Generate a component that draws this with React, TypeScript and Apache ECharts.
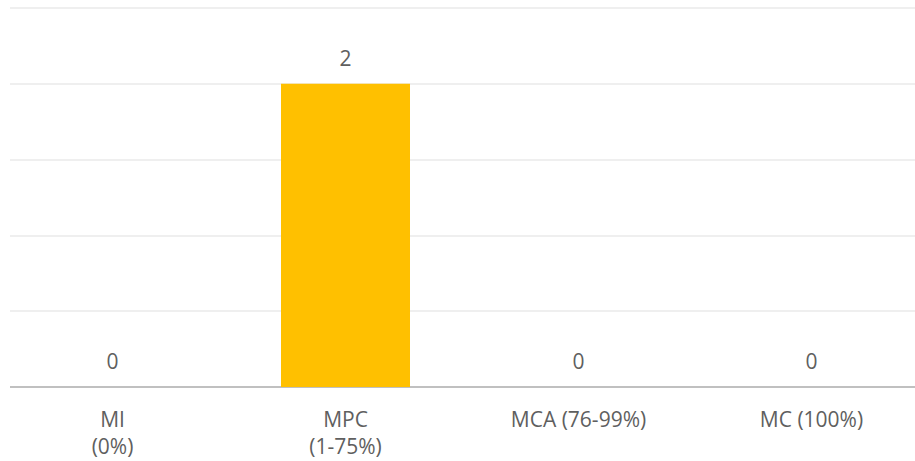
import React, { useEffect, useRef } from "react";
import * as echarts from "echarts";

const categories = ["MI\n(0%)", "MPC\n(1-75%)", "MCA (76-99%)", "MC (100%)"];
const values = [0, 2, 0, 0];
const yMin = 0;
const yMax = 2.5;
const yInterval = 0.5;

export default function App() {
  const ref = useRef<HTMLDivElement>(null);
  useEffect(() => {
    if (!ref.current) return;
    const chart = echarts.init(ref.current, undefined, { renderer: "svg" });
    const font = "'Open Sans', 'Segoe UI', sans-serif";
    chart.setOption({
      animation: false,
      backgroundColor: "#ffffff",
      grid: {
        left: -4,
        top: 8,
        width: 932,
        height: 379,
        containLabel: false,
        outerBoundsMode: "none",
      },
      xAxis: {
        type: "category",
        data: categories,
        axisTick: { show: false },
        axisLine: { show: true, lineStyle: { color: "#c0c0c0", width: 2 } },
        axisLabel: {
          interval: 0,
          margin: 18,
          color: "#5f5f5f",
          fontFamily: font,
          fontSize: 21,
          lineHeight: 27.5,
        },
        splitLine: { show: false },
      },
      yAxis: {
        type: "value",
        min: yMin,
        max: yMax,
        interval: yInterval,
        axisLabel: { show: false },
        axisLine: { show: false },
        axisTick: { show: false },
        splitLine: { show: true, lineStyle: { color: "#efefef", width: 2 } },
      },
      series: [
        {
          type: "bar",
          data: values,
          barWidth: 129,
          itemStyle: { color: "#FFC000" },
          label: {
            show: true,
            position: "top",
            distance: 15,
            color: "#5f5f5f",
            fontFamily: font,
            fontSize: 21,
            lineHeight: 22,
          },
        },
      ],
      graphic: [
        {
          type: "rect",
          left: 0,
          top: 0,
          z: 100,
          shape: { width: 10, height: 395 },
          style: { fill: "#ffffff" },
        },
      ],
    });
    return () => chart.dispose();
  }, []);
  return (
    <div
      ref={ref}
      style={{ position: "absolute", left: 0, top: 0, width: 915, height: 461 }}
    />
  );
}
